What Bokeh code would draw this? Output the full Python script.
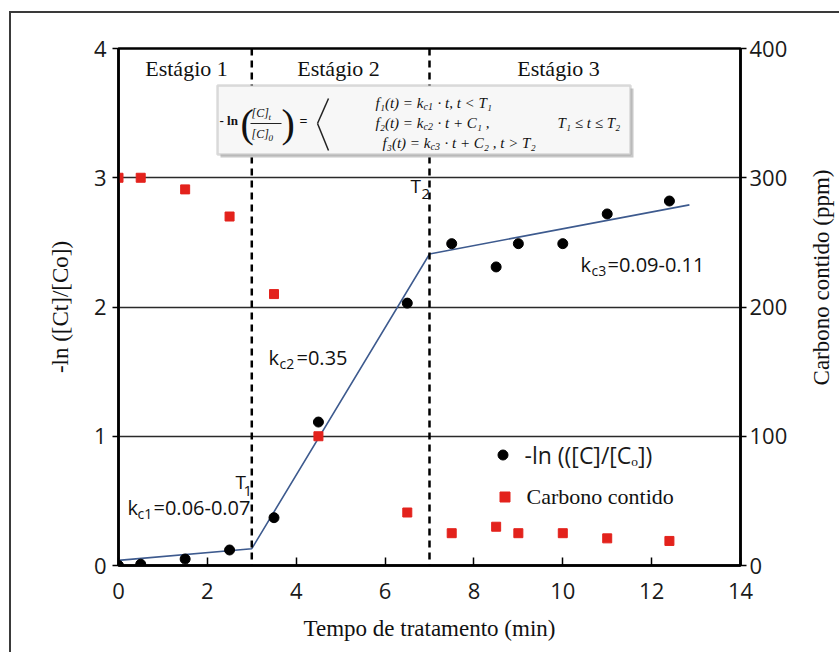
import math
from bokeh.plotting import figure
from bokeh.models import (Range1d, LinearAxis, Span, BoxAnnotation, Label, Legend,
                          LegendItem, FixedTicker, Arrow)
from bokeh.embed import file_html
from bokeh.resources import INLINE

# ---- data ----
t_min = [0, 0.5, 1.5, 2.5, 3.5, 4.5, 6.5, 7.5, 8.5, 9, 10, 11, 12.4]
ln_ratio = [0.0, 0.01, 0.05, 0.12, 0.37, 1.11, 2.03, 2.49, 2.31, 2.49, 2.49, 2.72, 2.82]
carbon_ppm = [300, 300, 291, 270, 210, 100, 41, 25, 30, 25, 25, 21, 19]

fit_t = [0, 3, 7, 12.85]
fit_y = [0.04, 0.13, 2.41, 2.79]

stage_bounds = [3, 7]
x_ticks = [0, 2, 4, 6, 8, 10, 12, 14]
y_ticks = [0, 1, 2, 3, 4]
ppm_ticks = [0, 100, 200, 300, 400]
grid_levels = [1, 2, 3]

# ---- frame geometry helpers (pixel -> data) for annotations ----
FL, FR, FT, FB = 118, 740, 48, 565
def fx(px):
    return (px - FL) * 14.0 / (FR - FL)
def fy(py):
    return (FB - py) * 4.0 / (FB - FT)

p = figure(width=839, height=652, x_range=Range1d(0, 14), y_range=Range1d(0, 4),
           output_backend="svg", toolbar_location=None,
           min_border_left=FL, min_border_right=839 - FR,
           min_border_top=FT, min_border_bottom=652 - FB)
p.extra_y_ranges = {"ppm": Range1d(0, 400)}
p.border_fill_color = None
p.background_fill_color = "white"
p.outline_line_color = "black"
p.outline_line_width = 2.5
p.styles = {"background": "linear-gradient(#3a3a3a,#3a3a3a) 9px 11px / 2px 700px no-repeat, "
                          "linear-gradient(#3a3a3a,#3a3a3a) 9px 11px / 900px 2px no-repeat, #ffffff"}

TICK_FONT = "Open Sans"
SERIF = "Liberation Serif"

def style_axis(ax):
    ax.axis_line_color = "black"
    ax.axis_line_width = 2.5
    ax.major_tick_line_color = "black"
    ax.major_tick_line_width = 1.5
    ax.minor_tick_line_color = None
    ax.major_label_text_font = TICK_FONT
    ax.major_label_text_font_size = "22px"
    ax.major_label_text_color = "#1a1a1a"
    ax.axis_label_text_font = SERIF
    ax.axis_label_text_font_style = "normal"
    ax.axis_label_text_font_size = "23px"
    ax.axis_label_text_color = "#111111"

xa = p.xaxis[0]
style_axis(xa)
xa.ticker = FixedTicker(ticks=x_ticks)
xa.major_tick_in = 8
xa.major_tick_out = 0
xa.major_label_standoff = 17
xa.axis_label = "Tempo de tratamento (min)"
xa.axis_label_standoff = 14

ya = p.yaxis[0]
style_axis(ya)
ya.ticker = FixedTicker(ticks=y_ticks)
ya.major_tick_in = 0
ya.major_tick_out = 6
ya.major_label_standoff = 6
ya.axis_label = "-ln ([Ct]/[Co])"
ya.axis_label_standoff = 18

ra = LinearAxis(y_range_name="ppm")
style_axis(ra)
ra.ticker = FixedTicker(ticks=ppm_ticks)
ra.major_tick_in = 0
ra.major_tick_out = 6
ra.major_label_standoff = 3
p.add_layout(ra, "right")

p.xgrid.grid_line_color = None
p.ygrid.ticker = FixedTicker(ticks=grid_levels)
p.ygrid.grid_line_color = "#2a2a2a"
p.ygrid.grid_line_width = 1.3

for b in stage_bounds:
    p.add_layout(Span(location=b, dimension="height", line_color="black",
                      line_width=2.5, line_dash="7 5"))

# data
p.line(fit_t, fit_y, line_color="#3d5a8e", line_width=1.6)
r_c = p.scatter(t_min, carbon_ppm, y_range_name="ppm", marker="square", size=9,
                fill_color="#e3221c", line_color="#e3221c")
r_ln = p.scatter(t_min, ln_ratio, marker="circle", size=10,
                 fill_color="black", line_color="black")

# legends
leg1 = Legend(items=[LegendItem(label="-ln (([C]/[Cₒ])", renderers=[r_ln])],
              location=(371.5, 94.5), padding=0, margin=0, spacing=0,
              border_line_color=None, background_fill_alpha=0,
              glyph_width=25, glyph_height=25, label_height=25, label_standoff=10,
              label_text_font=TICK_FONT, label_text_font_size="23px",
              label_text_color="#1a1a1a")
leg2 = Legend(items=[LegendItem(label="Carbono contido", renderers=[r_c])],
              location=(373.5, 55.5), padding=0, margin=0, spacing=0,
              border_line_color=None, background_fill_alpha=0,
              glyph_width=25, glyph_height=25, label_height=25, label_standoff=10,
              label_text_font=SERIF, label_text_font_size="22px",
              label_text_color="#111111")
p.add_layout(leg1)
p.add_layout(leg2)

def mk(px, py, text, size, font=TICK_FONT, style="normal", align="left",
       color="#111111", angle=0.0):
    return Label(x=fx(px), y=fy(py), text=text, text_font=font,
                 text_font_size=f"{size}px", text_font_style=style,
                 text_align=align, text_baseline="middle", text_color=color,
                 angle=angle)

def lab(*args, **kw):
    p.add_layout(mk(*args, **kw))

# right axis title (reads bottom-to-top, like the reference), placed in the right panel
p.add_layout(mk(821, 277, "Carbono contido (ppm)", 23, SERIF, align="center",
                angle=math.pi / 2), "right")

# stage labels
lab(186, 68, "Estágio 1", 22, SERIF, align="center")
lab(338, 68, "Estágio 2", 22, SERIF, align="center")
lab(558, 68, "Estágio 3", 22, SERIF, align="center")

# rate constants and breakpoints
lab(127, 507, "k", 20); lab(137, 513, "c1", 14); lab(153, 507, "=0.06-0.07", 20)
lab(268, 357, "k", 20); lab(279, 363, "c2", 14); lab(296, 357, "=0.35", 20)
lab(580, 264, "k", 20); lab(591, 270, "c3", 14); lab(607, 264, "=0.09-0.11", 20)
lab(235, 481, "T", 19); lab(243, 490, "1", 15)
lab(410, 185, "T", 19); lab(421, 193, "2", 15)

# equation box
p.add_layout(BoxAnnotation(left=fx(220), right=fx(633), top=fy(88), bottom=fy(157),
                           fill_color="#c8c8c8", fill_alpha=1, line_color=None))
p.add_layout(BoxAnnotation(left=fx(217), right=fx(630), top=fy(85), bottom=fy(154),
                           fill_color="#f7f7f7", fill_alpha=1, line_color="#8a8a8a",
                           line_width=2.5))
lab(219, 120, "- ln", 13, SERIF, style="bold")
lab(240, 123, "(", 40, SERIF)
lab(251, 112, "[C]", 12, SERIF, style="italic"); lab(268, 116, "t", 9, SERIF, style="italic")
p.add_layout(Arrow(end=None, x_start=fx(250), y_start=fy(123), x_end=fx(281), y_end=fy(123),
                   line_color="#222222", line_width=1.2))
lab(251, 133, "[C]", 12, SERIF, style="italic"); lab(268, 137, "0", 9, SERIF, style="italic")
lab(281, 123, ")", 40, SERIF)
lab(299, 121, "=", 14, SERIF, style="bold")
p.add_layout(Arrow(end=None, x_start=fx(328), y_start=fy(98), x_end=fx(317), y_end=fy(123),
                   line_color="#222222", line_width=1.5))
p.add_layout(Arrow(end=None, x_start=fx(317), y_start=fy(123), x_end=fx(328), y_end=fy(150),
                   line_color="#222222", line_width=1.5))
EQ = 15
SUB = 10
lab(375, 102, "f₁(t) = k", EQ, SERIF, style="italic"); lab(423, 106, "c1", SUB, SERIF, style="italic")
lab(437, 102, "· t, t < T₁", EQ, SERIF, style="italic")
lab(375, 122, "f₂(t) = k", EQ, SERIF, style="italic"); lab(423, 126, "c2", SUB, SERIF, style="italic")
lab(437, 122, "· t + C₁ ,", EQ, SERIF, style="italic")
lab(557, 122, "T₁ ≤ t ≤ T₂", EQ, SERIF, style="italic")
lab(382, 142, "f₃(t) = k", EQ, SERIF, style="italic"); lab(430, 146, "c3", SUB, SERIF, style="italic")
lab(444, 142, "· t + C₂ , t > T₂", EQ, SERIF, style="italic")

open("out.html", "w").write(file_html(p, INLINE))
